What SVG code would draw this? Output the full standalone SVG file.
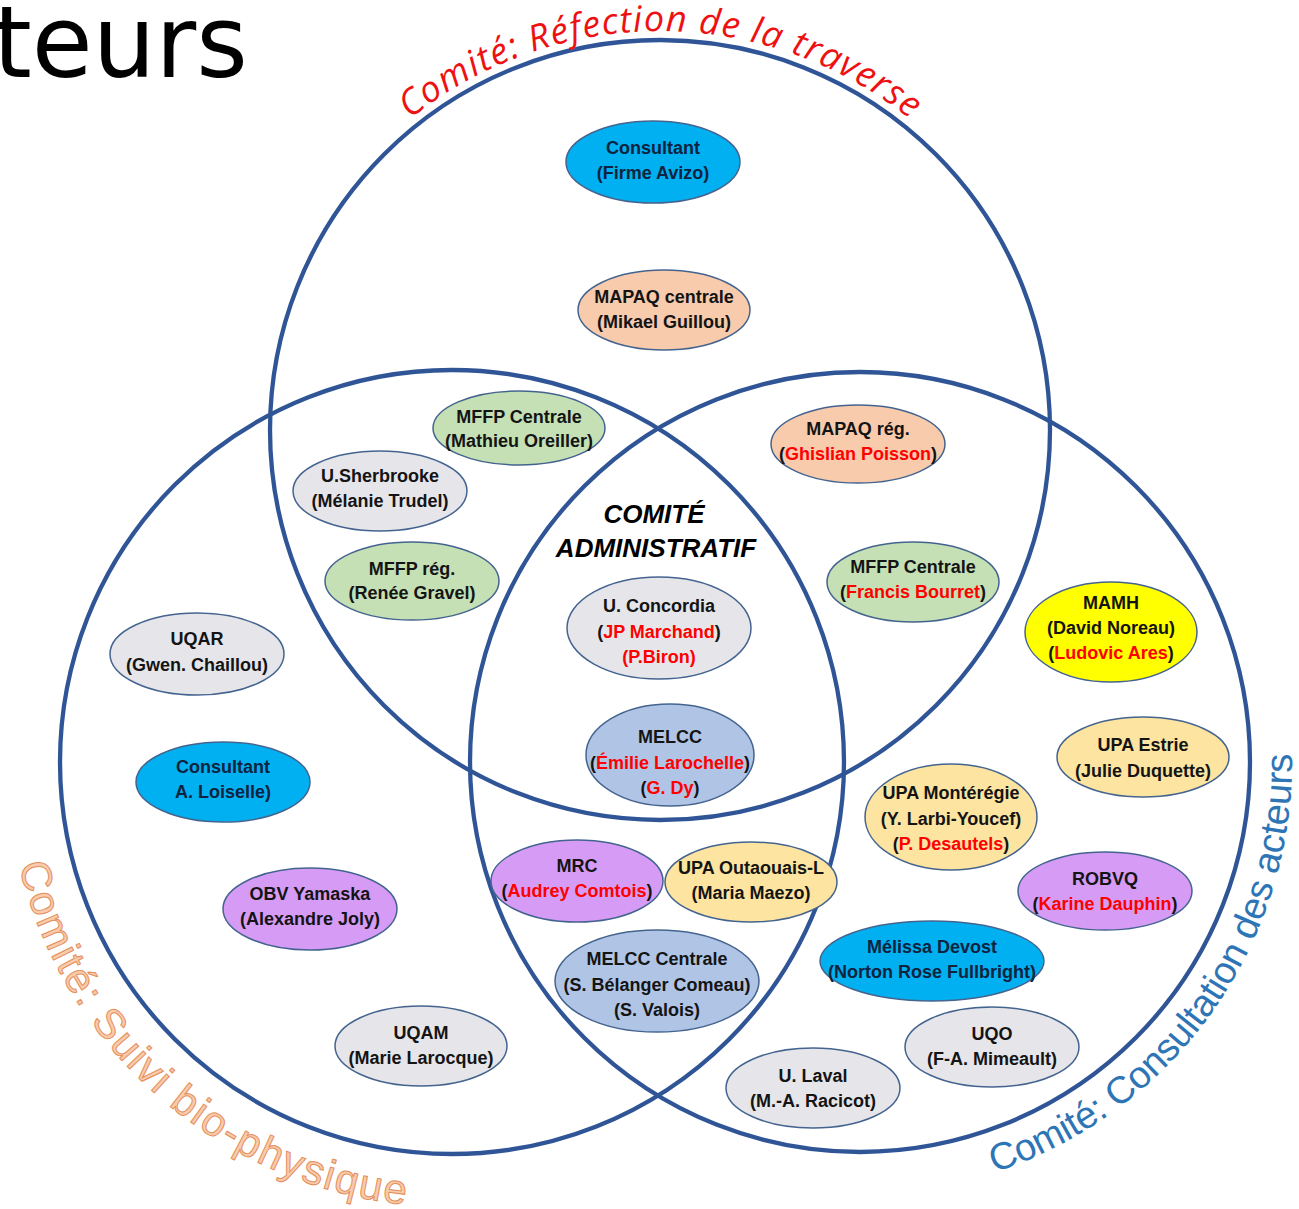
<svg xmlns="http://www.w3.org/2000/svg" width="1299" height="1209" viewBox="0 0 1299 1209">
  <style>
    .ring { fill: none; stroke: #2f5597; stroke-width: 4.3; }
    .nd ellipse { stroke: #44648f; stroke-width: 1.5; }
    .cy { fill: #00b0f0; }
    .pe { fill: #f8cbad; }
    .gr { fill: #c5e0b4; }
    .gy { fill: #e6e6ea; }
    .bl { fill: #b0c5e6; }
    .vi { fill: #d69cf5; }
    .or { fill: #fde4a0; }
    .ye { fill: #ffff00; }
    .nd text { font-family: "Liberation Sans", Arial, sans-serif; font-weight: bold; font-size: 18px; text-anchor: middle; fill: #141414; }
    .nd text.dk { fill: #0e2340; }
    .nd .r, .r { fill: #ff0000; }
    .title { font-family: "DejaVu Sans", Verdana, sans-serif; font-size: 99px; fill: #000; }
    .admin { font-family: "Liberation Sans", Arial, sans-serif; font-weight: bold; font-style: italic; font-size: 26px; text-anchor: middle; fill: #000; }
    .arcR { font-family: "Open Sans", "Liberation Sans", sans-serif; font-style: italic; font-size: 36px; fill: #ee1111; }
    .arcO { font-family: "Liberation Sans", Arial, sans-serif; font-size: 42px; fill: #f8cbad; stroke: #e58f5a; stroke-width: 1; }
    .arcB { font-family: "Liberation Sans", Arial, sans-serif; font-size: 38px; fill: #2e75b6; }
  </style>
  <defs>
    <path id="arcTop" d="M314.5,230.5 A399,399 0 0 1 1005.5,230.5"/>
    <path id="arcLeft" d="M13.8,684.7 A445,445 0 0 0 604.2,1180.2"/>
    <path id="arcRight" d="M712.3,1168 A432,432 0 0 0 1234.1,546"/>
  </defs>

  <rect width="1299" height="1209" fill="#ffffff"/>

  <!-- page heading, partly off the left edge -->
  <text class="title" x="-7" y="77">teurs</text>

  <!-- the three committee circles -->
  <g id="connectors">
    <circle class="ring" cx="660" cy="430" r="390"/>
    <circle class="ring" cx="452" cy="762" r="392"/>
    <circle class="ring" cx="860" cy="762" r="390"/>
  </g>

  <!-- committee names along the circles -->
  <g id="committee-labels">
    <text class="arcR"><textPath href="#arcTop" startOffset="50%" text-anchor="middle" textLength="540" lengthAdjust="spacing">Comité: Réfection de la traverse</textPath></text>
    <text class="arcO"><textPath href="#arcLeft" startOffset="48.9%" text-anchor="middle" textLength="548" lengthAdjust="spacing">Comité: Suivi bio-physique</textPath></text>
    <text class="arcB"><textPath href="#arcRight" startOffset="53.3%" text-anchor="middle" textLength="550" lengthAdjust="spacing">Comité: Consultation des acteurs</textPath></text>
  </g>

  <g id="comite-administratif">
    <text class="admin" x="654" y="523">COMITÉ</text>
    <text class="admin" x="656" y="557">ADMINISTRATIF</text>
  </g>

  <!-- stakeholders -->
  <g id="n-consultant-avizo" class="nd">
    <ellipse class="cy" cx="653" cy="162" rx="87" ry="41"/>
    <text class="dk" x="653" y="154">Consultant</text>
    <text class="dk" x="653" y="179">(Firme Avizo)</text>
  </g>
  <g id="n-mapaq-centrale" class="nd">
    <ellipse class="pe" cx="664" cy="310" rx="86" ry="40"/>
    <text x="664" y="303">MAPAQ centrale</text>
    <text x="664" y="328">(Mikael Guillou)</text>
  </g>
  <g id="n-mffp-centrale-oreiller" class="nd">
    <ellipse class="gr" cx="519" cy="428" rx="86" ry="37"/>
    <text x="519" y="423">MFFP Centrale</text>
    <text x="519" y="447">(Mathieu Oreiller)</text>
  </g>
  <g id="n-usherbrooke" class="nd">
    <ellipse class="gy" cx="380" cy="491" rx="87" ry="40"/>
    <text x="380" y="482">U.Sherbrooke</text>
    <text x="380" y="507">(Mélanie Trudel)</text>
  </g>
  <g id="n-mffp-reg" class="nd">
    <ellipse class="gr" cx="412" cy="581" rx="87" ry="39"/>
    <text x="412" y="575">MFFP rég.</text>
    <text x="412" y="599">(Renée Gravel)</text>
  </g>
  <g id="n-mapaq-reg" class="nd">
    <ellipse class="pe" cx="858" cy="444" rx="87" ry="39"/>
    <text x="858" y="435">MAPAQ rég.</text>
    <text x="858" y="460">(<tspan class="r">Ghislian Poisson</tspan>)</text>
  </g>
  <g id="n-mffp-centrale-bourret" class="nd">
    <ellipse class="gr" cx="913" cy="582" rx="86" ry="40"/>
    <text x="913" y="573">MFFP Centrale</text>
    <text x="913" y="598">(<tspan class="r">Francis Bourret</tspan>)</text>
  </g>
  <g id="n-concordia" class="nd">
    <ellipse class="gy" cx="659" cy="628" rx="92" ry="51"/>
    <text x="659" y="612">U. Concordia</text>
    <text x="659" y="638">(<tspan class="r">JP Marchand</tspan>)</text>
    <text class="r" x="659" y="663">(P.Biron)</text>
  </g>
  <g id="n-melcc" class="nd">
    <ellipse class="bl" cx="670" cy="755" rx="84" ry="51"/>
    <text x="670" y="743">MELCC</text>
    <text x="670" y="769">(<tspan class="r">Émilie Larochelle</tspan>)</text>
    <text x="670" y="794">(<tspan class="r">G. Dy</tspan>)</text>
  </g>
  <g id="n-uqar" class="nd">
    <ellipse class="gy" cx="197" cy="654" rx="87" ry="41"/>
    <text x="197" y="645">UQAR</text>
    <text x="197" y="671">(Gwen. Chaillou)</text>
  </g>
  <g id="n-consultant-loiselle" class="nd">
    <ellipse class="cy" cx="223" cy="782" rx="87" ry="40"/>
    <text class="dk" x="223" y="773">Consultant</text>
    <text class="dk" x="223" y="798">A. Loiselle)</text>
  </g>
  <g id="n-obv-yamaska" class="nd">
    <ellipse class="vi" cx="310" cy="909" rx="87" ry="41"/>
    <text x="310" y="900">OBV Yamaska</text>
    <text x="310" y="925">(Alexandre Joly)</text>
  </g>
  <g id="n-uqam" class="nd">
    <ellipse class="gy" cx="421" cy="1046" rx="86" ry="40"/>
    <text x="421" y="1039">UQAM</text>
    <text x="421" y="1064">(Marie Larocque)</text>
  </g>
  <g id="n-mrc" class="nd">
    <ellipse class="vi" cx="577" cy="881" rx="86" ry="41"/>
    <text x="577" y="872">MRC</text>
    <text x="577" y="897">(<tspan class="r">Audrey Comtois</tspan>)</text>
  </g>
  <g id="n-upa-outaouais" class="nd">
    <ellipse class="or" cx="751" cy="882" rx="86" ry="40"/>
    <text x="751" y="874">UPA Outaouais-L</text>
    <text x="751" y="899">(Maria Maezo)</text>
  </g>
  <g id="n-melcc-centrale" class="nd">
    <ellipse class="bl" cx="657" cy="981" rx="102" ry="51"/>
    <text x="657" y="965">MELCC Centrale</text>
    <text x="657" y="991">(S. Bélanger Comeau)</text>
    <text x="657" y="1016">(S. Valois)</text>
  </g>
  <g id="n-upa-monteregie" class="nd">
    <ellipse class="or" cx="951" cy="817" rx="86" ry="53"/>
    <text x="951" y="799">UPA Montérégie</text>
    <text x="951" y="825">(Y. Larbi-Youcef)</text>
    <text x="951" y="850">(<tspan class="r">P. Desautels</tspan>)</text>
  </g>
  <g id="n-mamh" class="nd">
    <ellipse class="ye" cx="1111" cy="632" rx="86" ry="50"/>
    <text x="1111" y="609">MAMH</text>
    <text x="1111" y="634">(David Noreau)</text>
    <text x="1111" y="659">(<tspan class="r">Ludovic Ares</tspan>)</text>
  </g>
  <g id="n-upa-estrie" class="nd">
    <ellipse class="or" cx="1143" cy="757" rx="86" ry="40"/>
    <text x="1143" y="751">UPA Estrie</text>
    <text x="1143" y="777">(Julie Duquette)</text>
  </g>
  <g id="n-robvq" class="nd">
    <ellipse class="vi" cx="1105" cy="891" rx="87" ry="39"/>
    <text x="1105" y="885">ROBVQ</text>
    <text x="1105" y="910">(<tspan class="r">Karine Dauphin</tspan>)</text>
  </g>
  <g id="n-devost" class="nd">
    <ellipse class="cy" cx="932" cy="961" rx="112" ry="40"/>
    <text class="dk" x="932" y="953">Mélissa Devost</text>
    <text class="dk" x="932" y="978">(Norton Rose Fullbright)</text>
  </g>
  <g id="n-uqo" class="nd">
    <ellipse class="gy" cx="992" cy="1047" rx="87" ry="40"/>
    <text x="992" y="1040">UQO</text>
    <text x="992" y="1065">(F-A. Mimeault)</text>
  </g>
  <g id="n-ulaval" class="nd">
    <ellipse class="gy" cx="813" cy="1088" rx="87" ry="40"/>
    <text x="813" y="1082">U. Laval</text>
    <text x="813" y="1107">(M.-A. Racicot)</text>
  </g>
</svg>
